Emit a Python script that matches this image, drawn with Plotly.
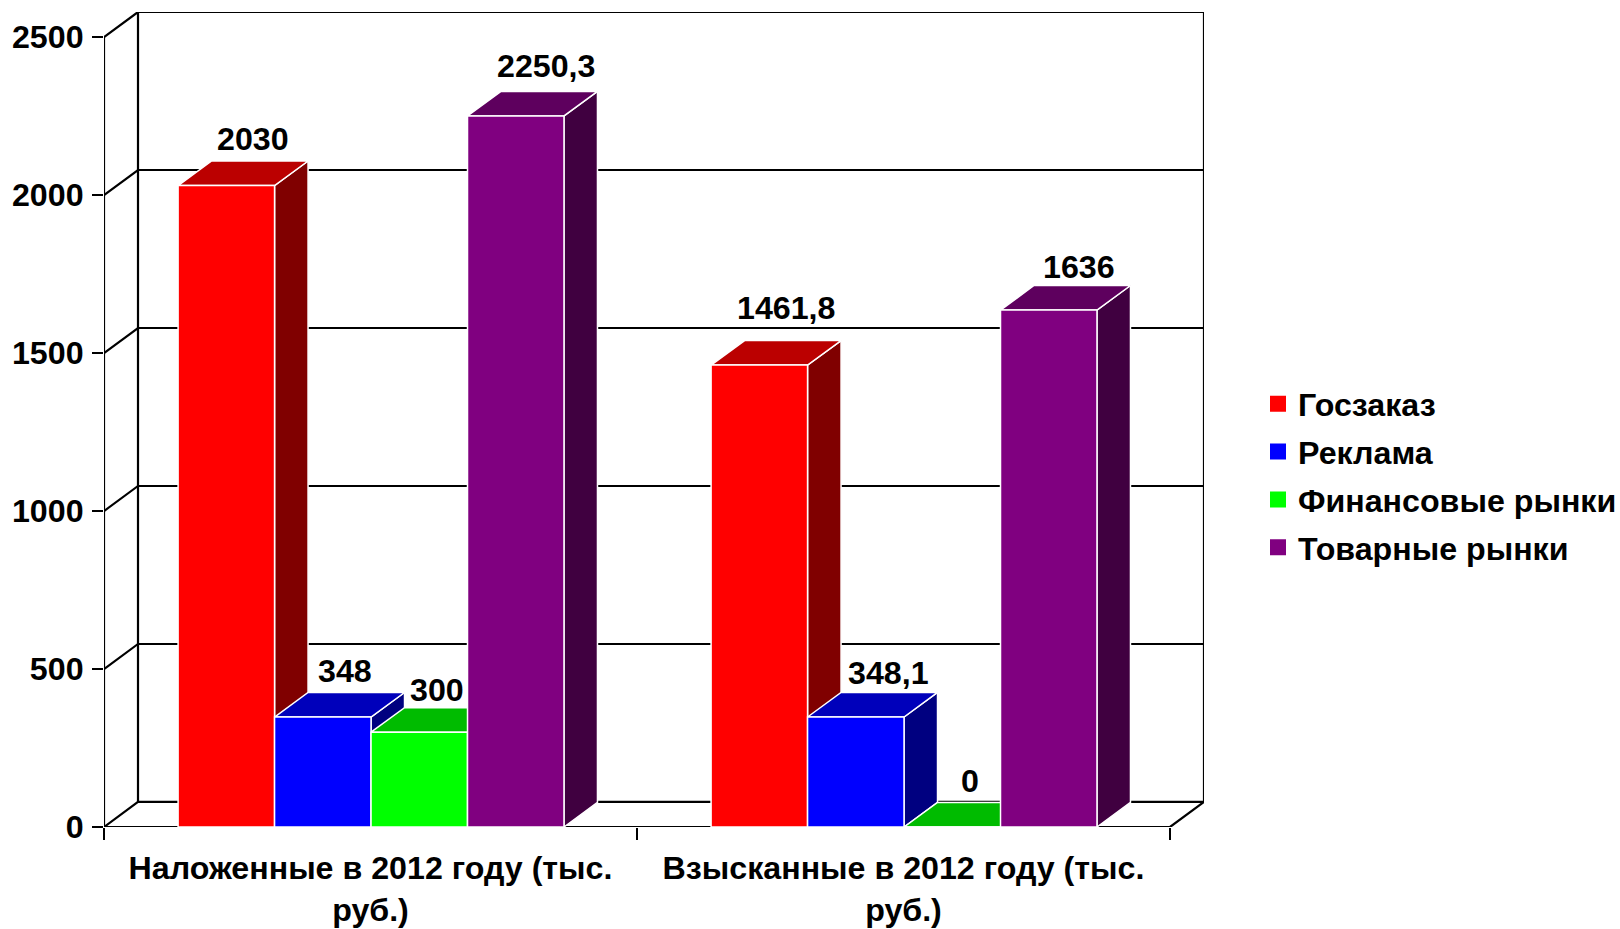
import plotly.graph_objects as go

CATEGORIES = ["Наложенные в 2012 году (тыс.<br>руб.)", "Взысканные в 2012 году (тыс.<br>руб.)"]
SERIES = ["Госзаказ", "Реклама", "Финансовые рынки", "Товарные рынки"]
GOSZAKAZ = [2030, 1461.8]
REKLAMA = [348, 348.1]
FINANCE = [300, 0]
TOVAR = [2250.3, 1636]
Y_TICKS = [0, 500, 1000, 1500, 2000, 2500]

VALUES = [GOSZAKAZ, REKLAMA, FINANCE, TOVAR]
FRONT = ["#FF0000", "#0000FF", "#00FF00", "#800080"]
TOP = ["#BB0000", "#0000BB", "#00BB00", "#5E005E"]
SIDE = ["#800000", "#000080", "#008000", "#400040"]

# label nudges in pixels, relative to the bar's front-top centre
LABEL_DX = [[27, 22, 18, 30], [27, 33, 18, 30]]
LABEL_DY = [[47, 46, 42, 50], [57, 44, 46, 43]]

FONT = dict(family="Liberation Sans", size=32.2, color="#000000", weight=700)

L, R, T, B = 104, 1204, 12, 827
PX_PER_CAT = 533.0
PX_PER_VAL = 789.0 / 2500
WALL_DX, WALL_DY = 34 / PX_PER_CAT, 25 / PX_PER_VAL
BAR_DX, BAR_DY = 33.5 / PX_PER_CAT, 24.5 / PX_PER_VAL
X0, X1 = -0.5, 1.5
BAR_W = 0.181
Y_MAX = Y_TICKS[-1]

fig = go.Figure()

# frame: walls, floor and gridlines
fx, fy = [], []
for v in Y_TICKS:
    fx += [X0, X0 + WALL_DX, X1 + WALL_DX, None]
    fy += [v, v + WALL_DY, v + WALL_DY, None]
fx += [X0, X0, None, X0, X1, X1 + WALL_DX, None, X0 + WALL_DX, X0 + WALL_DX, None, X1 + WALL_DX, X1 + WALL_DX]
fy += [0, Y_MAX, None, 0, 0, WALL_DY, None, WALL_DY, Y_MAX + WALL_DY, None, WALL_DY, Y_MAX + WALL_DY]
fig.add_trace(go.Scatter(x=fx, y=fy, mode="lines", line=dict(color="#000000", width=2.2),
                         showlegend=False, hoverinfo="skip", cliponaxis=False))


def poly(xs, ys, color):
    fig.add_trace(go.Scatter(x=xs + xs[:1], y=ys + ys[:1], mode="lines", fill="toself",
                             fillcolor=color, line=dict(color="#FFFFFF", width=1.5),
                             showlegend=False, hoverinfo="skip", cliponaxis=False))


annotations = []
for g in range(len(CATEGORIES)):
    for s, vals in enumerate(VALUES):
        v = vals[g]
        a = g - 2 * BAR_W + s * BAR_W + 0.001
        b = a + BAR_W
        poly([b, b + BAR_DX, b + BAR_DX, b], [0, BAR_DY, v + BAR_DY, v], SIDE[s])
        poly([a, a + BAR_DX, b + BAR_DX, b], [v, v + BAR_DY, v + BAR_DY, v], TOP[s])
        poly([a, b, b, a], [0, 0, v, v], FRONT[s])
        annotations.append(dict(x=(a + b) / 2, y=v, xref="x", yref="y", showarrow=False,
                                text=str(v).replace(".", ","), font=FONT,
                                xshift=LABEL_DX[g][s], yshift=LABEL_DY[g][s],
                                xanchor="center", yanchor="middle"))

for s, name in enumerate(SERIES):
    fig.add_trace(go.Scatter(x=[None], y=[None], mode="markers", name=name, legendgroup=name,
                             marker=dict(symbol="square", size=16, color=FRONT[s])))

fig.update_layout(
    width=1620, height=929, autosize=False,
    margin=dict(l=L, r=1620 - R, t=T, b=929 - B, pad=0, autoexpand=False),
    paper_bgcolor="#FFFFFF", plot_bgcolor="#FFFFFF",
    hovermode=False, font=FONT, annotations=annotations,
    legend=dict(x=(1258 - L) / (R - L), xanchor="left", y=0.431, yanchor="middle",
                font=FONT, tracegroupgap=3, borderwidth=0, bgcolor="rgba(0,0,0,0)"),
    xaxis=dict(range=[X0, X1 + WALL_DX], tickvals=[0, 1], ticktext=CATEGORIES, tickfont=FONT,
               showgrid=False, zeroline=False, showline=False, ticks="", ticklen=0,
               ticklabelstandoff=19,
               minor=dict(tickvals=[X0, 0.5, X1], ticks="outside", ticklen=12, tickwidth=2,
                          tickcolor="#000000", showgrid=False),
               fixedrange=True),
    yaxis=dict(range=[0, Y_MAX + WALL_DY], tickvals=Y_TICKS, tickfont=FONT, showgrid=False,
               zeroline=False, showline=False, ticks="outside", ticklen=11, tickwidth=2,
               tickcolor="#000000", fixedrange=True, ticklabelstandoff=2),
)

fig.write_html("out.html", config={"displayModeBar": False},
               post_script="document.body.style.margin='0';document.body.style.overflow='hidden';")
